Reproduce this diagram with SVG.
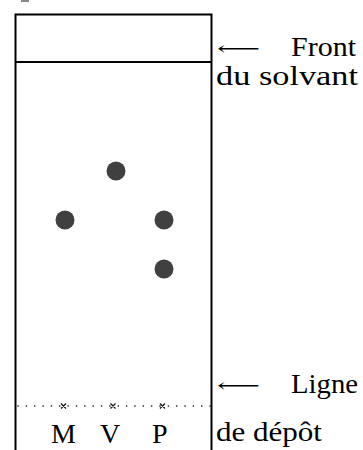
<svg xmlns="http://www.w3.org/2000/svg" width="363" height="450" viewBox="0 0 363 450">
  <style>
    .plate { fill: none; stroke: #000; stroke-width: 2; }
    .spot { fill: #404040; }
    .lbl { font-family: "Liberation Serif", "DejaVu Serif", serif; font-size: 28px; fill: #000; }
    .arr { font-family: "DejaVu Serif", serif; font-size: 19px; fill: #000; }
    .mark { stroke: #111; stroke-width: 1.2; fill: none; }
  </style>
  <rect width="363" height="450" fill="#fff"/>
  <line x1="21" y1="1" x2="29" y2="1" stroke="#888" stroke-width="2"/>

  <!-- TLC plate -->
  <g id="plate">
    <path class="plate" d="M15.5,460 V14.5 H211.5 V460"/>
    <line class="plate" x1="15.5" y1="62" x2="211.5" y2="62"/>
  </g>

  <!-- spots -->
  <g id="spots">
    <circle class="spot" cx="116" cy="171" r="9.5"/>
    <circle class="spot" cx="65" cy="220" r="9.5"/>
    <circle class="spot" cx="164" cy="220" r="9.5"/>
    <circle class="spot" cx="164" cy="269" r="9.5"/>
  </g>

  <!-- baseline with deposit marks -->
  <g id="baseline">
    <line x1="18" y1="406" x2="211" y2="406" stroke="#111" stroke-width="1.6" stroke-linecap="round" stroke-dasharray="0.1 8.25"/>
    <path class="mark" d="M61,403.5 l5,5 M66,403.5 l-5,5 M110.5,403.5 l5,5 M115.5,403.5 l-5,5 M160,403.5 l5,5 M165,403.5 l-5,5"/>
    <text class="lbl" x="51" y="443">M</text>
    <text class="lbl" x="100" y="443">V</text>
    <text class="lbl" x="152" y="443">P</text>
  </g>

  <!-- annotations -->
  <g id="front-label">
    <text class="arr" x="217" y="55" textLength="43" lengthAdjust="spacingAndGlyphs">⟵</text>
    <text class="lbl" x="291" y="56" textLength="65" lengthAdjust="spacingAndGlyphs">Front</text>
    <text class="lbl" x="216" y="85" textLength="142" lengthAdjust="spacingAndGlyphs">du solvant</text>
  </g>
  <g id="depot-label">
    <text class="arr" x="217" y="392" textLength="43" lengthAdjust="spacingAndGlyphs">⟵</text>
    <text class="lbl" x="291" y="393" textLength="67" lengthAdjust="spacingAndGlyphs">Ligne</text>
    <text class="lbl" x="216" y="441" textLength="106" lengthAdjust="spacingAndGlyphs">de dépôt</text>
  </g>
</svg>
